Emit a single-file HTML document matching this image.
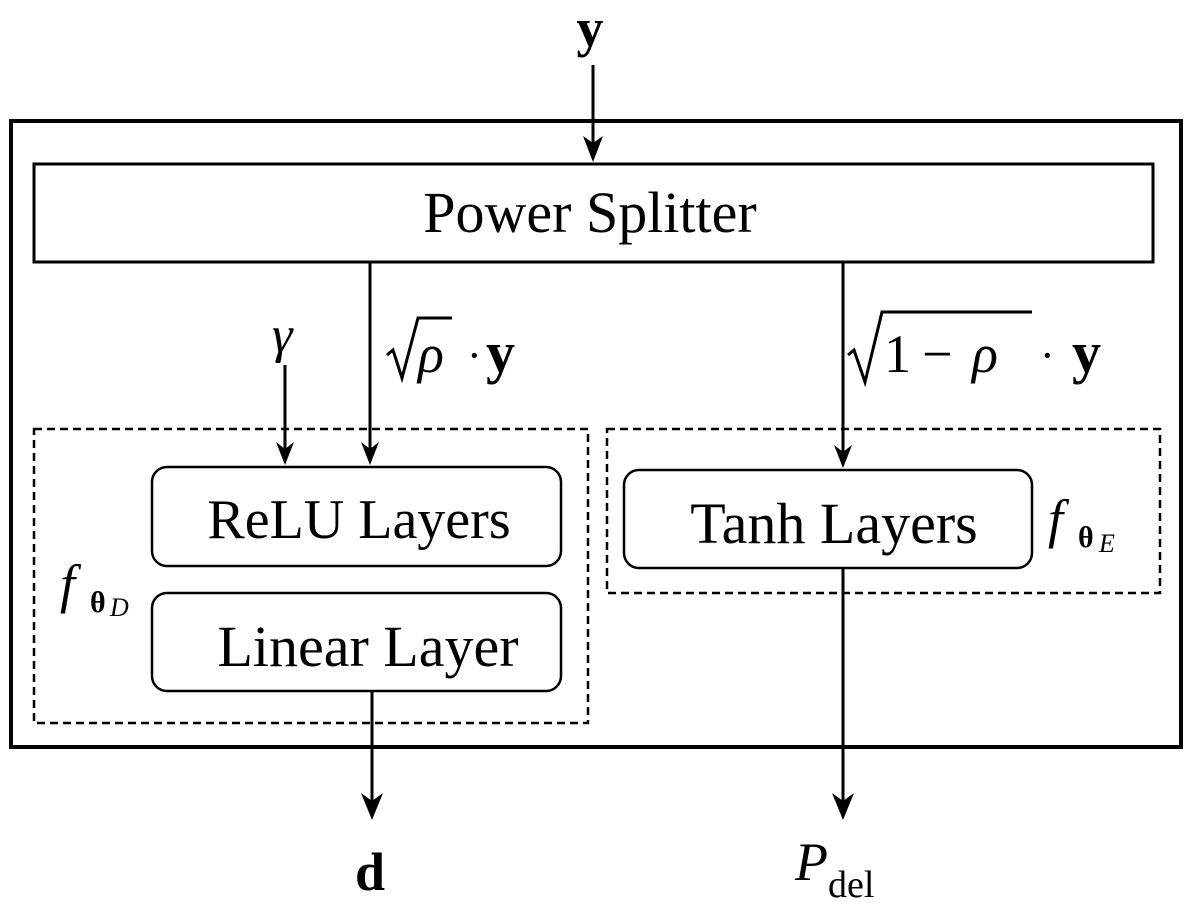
<!DOCTYPE html>
<html><head><meta charset="utf-8"><style>
html,body{margin:0;padding:0;background:#fff;}
svg text{font-family:"Liberation Serif","DejaVu Serif",serif;fill:#000;}
</style></head><body>
<svg width="1192" height="911" viewBox="0 0 1192 911" xmlns="http://www.w3.org/2000/svg">
<g fill="none" stroke="#000">
<rect x="11" y="121" width="1170" height="626" stroke-width="4"/>
<rect x="34" y="164" width="1119" height="98" stroke-width="3"/>
<rect x="34" y="429" width="554" height="294" stroke-width="2.5" stroke-dasharray="8,5"/>
<rect x="607" y="429" width="553" height="164" stroke-width="2.5" stroke-dasharray="8,5"/>
<rect x="152" y="467" width="409" height="99" rx="15" stroke-width="2.5"/>
<rect x="152" y="593" width="409" height="98" rx="15" stroke-width="2.5"/>
<rect x="624" y="470" width="408" height="98" rx="15" stroke-width="2.5"/>
</g>
<g stroke="#000" stroke-width="3" fill="#000">
<line x1="593" y1="65" x2="593" y2="158"/>
<path d="M583,136 L593,162 L603,136 L593,143z" stroke="none"/>
<line x1="370" y1="262" x2="370" y2="460"/>
<path d="M361,442 L370,465 L379,442 L370,449z" stroke="none"/>
<line x1="843" y1="262" x2="843" y2="463"/>
<path d="M834,445 L843,468 L852,445 L843,452z" stroke="none"/>
<line x1="285" y1="365" x2="285" y2="460"/>
<path d="M276,442 L285,465 L294,442 L285,449z" stroke="none"/>
<line x1="372" y1="691" x2="372" y2="815"/>
<path d="M361,793 L372,820 L383,793 L372,801z" stroke="none"/>
<line x1="843" y1="568" x2="843" y2="815"/>
<path d="M832,793 L843,820 L854,793 L843,801z" stroke="none"/>
</g>
<text x="590" y="46" font-size="54" font-weight="bold" text-anchor="middle">y</text>
<text x="590" y="232" font-size="58" text-anchor="middle">Power Splitter</text>
<text x="359" y="538" font-size="56" text-anchor="middle">ReLU Layers</text>
<text x="368" y="666" font-size="58" text-anchor="middle">Linear Layer</text>
<text x="834" y="543" font-size="58" text-anchor="middle">Tanh Layers</text>
<text x="272" y="352" font-size="52" font-style="italic">γ</text>
<text x="370" y="890" font-size="54" font-weight="bold" text-anchor="middle">d</text>
<text x="795" y="880" font-size="54" font-style="italic">P</text>
<text x="828" y="897" font-size="38">del</text>
<text x="60" y="602" font-size="54" font-style="italic">f</text>
<text x="90" y="612" font-size="30" font-weight="bold">θ</text>
<text x="110" y="616" font-size="26" font-style="italic">D</text>
<text x="1048" y="537" font-size="54" font-style="italic">f</text>
<text x="1078" y="547" font-size="30" font-weight="bold">θ</text>
<text x="1099" y="552" font-size="26" font-style="italic">E</text>
<g stroke="#000" stroke-width="3" fill="none">
<path d="M387,355 L393,350 L402,378 L418,318 L452,318"/>
<path d="M848,355 L854,350 L865,382 L882,312 L1032,312"/>
</g>
<text x="418" y="372" font-size="54" font-style="italic">ρ</text>
<text x="467" y="370" font-size="44">·</text>
<text x="486" y="372" font-size="58" font-weight="bold">y</text>
<text x="884" y="372" font-size="54">1</text>
<text x="922" y="372" font-size="54">−</text>
<text x="972" y="372" font-size="54" font-style="italic">ρ</text>
<text x="1040" y="370" font-size="44">·</text>
<text x="1072" y="372" font-size="58" font-weight="bold">y</text>
</svg>
</body></html>
